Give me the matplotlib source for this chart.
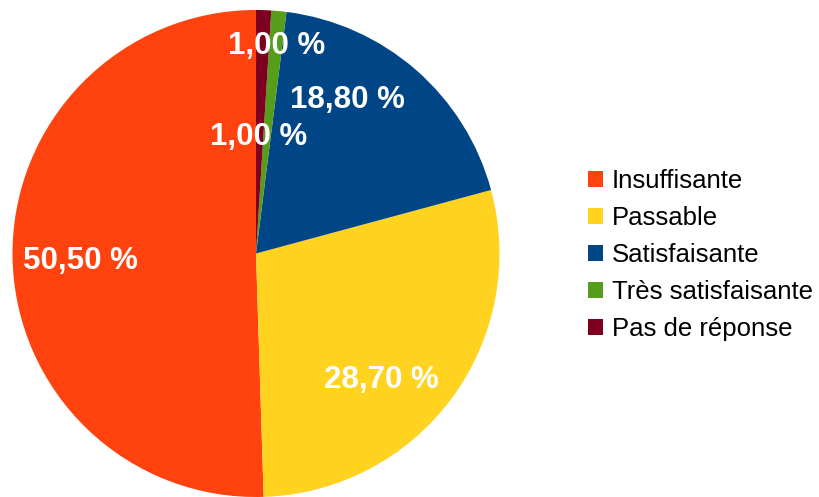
import matplotlib
matplotlib.use("Agg")
import matplotlib.pyplot as plt
from matplotlib.patches import Patch

plt.rcParams['font.family'] = ['Liberation Sans', 'DejaVu Sans']

categories = ["Insuffisante", "Passable", "Satisfaisante", "Très satisfaisante", "Pas de réponse"]
values = [50.5, 28.7, 18.8, 1.0, 1.0]
labels = ["50,50 %", "28,70 %", "18,80 %", "1,00 %", "1,00 %"]
colors = ["#ff420e", "#ffd320", "#004586", "#579d1c", "#7e0021"]

# label positions (pie data units, radius = 1)
label_pos = [(-0.721, -0.018), (0.516, -0.506), (0.377, 0.643), (0.012, 0.494), (0.086, 0.867)]

fig = plt.figure(figsize=(8.19, 4.97), dpi=100)
ax = fig.add_axes([12.5 / 819, 0.0, 487 / 819, 487 / 497])
wedges, _ = ax.pie(values, colors=colors, startangle=90, counterclock=True,
                   wedgeprops=dict(linewidth=0), radius=1.0)
ax.set_xlim(-1, 1)
ax.set_ylim(-1, 1)
ax.set_aspect('equal')
ax.axis('off')

for (x, y), t in zip(label_pos, labels):
    ax.text(x, y, t, color='white', fontsize=22.5, fontweight='bold',
            ha='center', va='center_baseline')

handles = [Patch(facecolor=c, edgecolor='none') for c in colors]
fig.legend(handles, categories, loc='center left',
           bbox_to_anchor=(588 / 819, 242 / 497), frameon=False,
           fontsize=18.5, handlelength=0.58, handleheight=0.58,
           handletextpad=0.35, labelspacing=0.51, borderpad=0,
           borderaxespad=0)

fig.savefig("out.png", dpi=100)
